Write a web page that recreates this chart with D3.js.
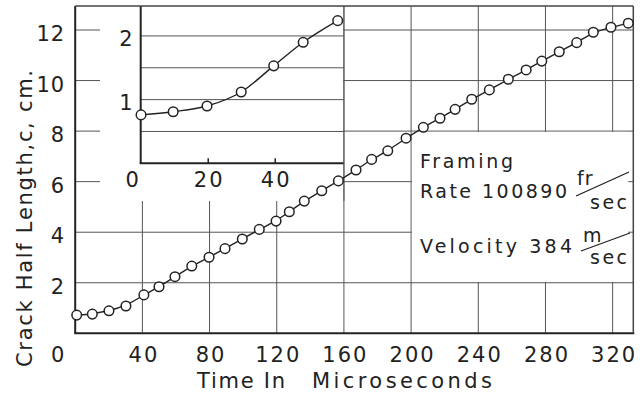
<!DOCTYPE html>
<html>
<head>
<meta charset="utf-8">
<script src="https://cdn.jsdelivr.net/npm/d3@7"></script>
<style>
  html, body { margin: 0; padding: 0; background: #fff; }
  svg { display: block; }
  text { font-family: "DejaVu Sans", sans-serif; fill: #222; }
</style>
</head>
<body>
<div id="chart"></div>
<script>
// ---- data ----
const mainTime = [0.9, 10.2, 20.1, 30.2, 40.9, 49.9, 59.4, 69.4, 79.7, 89.2, 99.5, 109.6, 119.6, 127.5, 136.4, 146.8, 156.7, 167.2, 176.5, 186.1, 197.0, 207.3, 217.2, 226.2, 236.1, 246.6, 257.9, 268.5, 277.8, 288.2, 298.6, 308.5, 319.0, 329.3];
const mainLength = [0.72, 0.76, 0.89, 1.08, 1.52, 1.84, 2.24, 2.66, 3.01, 3.35, 3.73, 4.11, 4.44, 4.81, 5.23, 5.64, 6.03, 6.46, 6.88, 7.22, 7.72, 8.15, 8.51, 8.86, 9.26, 9.63, 10.05, 10.42, 10.77, 11.14, 11.50, 11.91, 12.11, 12.27];
const insetTime = [0.1, 9.7, 19.8, 30.0, 39.7, 48.5, 58.8];
const insetLength = [0.76, 0.81, 0.90, 1.12, 1.53, 1.90, 2.24];

const mainXTicks = [0, 40, 80, 120, 160, 200, 240, 280, 320];
const mainYTicks = [2, 4, 6, 8, 10, 12];
const insetXTicks = [0, 20, 40];
const insetYTicks = [1, 2];
const insetGrid = [0.5, 1, 1.5, 2];

const xTitle1 = "Time In";
const xTitle2 = "Microseconds";
const yTitle = "Crack Half Length,c, cm.";
const noteLines = ["Framing", "Rate 100890", "Velocity 384"];
const unitTop = ["fr", "m"];
const unitBottom = "sec";

// ---- layout ----
const W = 644, H = 395;
const svg = d3.select("#chart").append("svg").attr("width", W).attr("height", H);
svg.append("rect").attr("width", W).attr("height", H).attr("fill", "#fff");

const x = d3.scaleLinear().domain([0, 332.3]).range([75.2, 633.3]);
const y = d3.scaleLinear().domain([0, 12.95]).range([333.3, 6]);
const xi = d3.scaleLinear().domain([0, 60.66]).range([140.7, x(160)]);
const yi = d3.scaleLinear().domain([0, 2.47]).range([163.3, 6]);

const gridColor = "#555";
const ink = "#222";
const fmt = d3.format("d");

// mask hiding the grid under the inset and the note box
const defs = svg.append("defs");
const mask = defs.append("mask").attr("id", "gridMask");
mask.append("rect").attr("x", 0).attr("y", 0).attr("width", W).attr("height", H).attr("fill", "#fff");
mask.append("rect").attr("x", 100).attr("y", 0)
  .attr("width", x(160) - 0.8 - 100).attr("height", 201).attr("fill", "#000");
mask.append("rect").attr("x", x(200) + 0.8).attr("y", y(8) + 0.8)
  .attr("width", x.range()[1] - 5 - (x(200) + 0.8)).attr("height", y(2) - 0.8 - (y(8) + 0.8)).attr("fill", "#000");

// main grid
const grid = svg.append("g").attr("mask", "url(#gridMask)")
  .attr("stroke", gridColor).attr("stroke-width", 1);
grid.selectAll("line.v").data(mainXTicks.filter(d => d > 0)).join("line")
  .attr("class", "v")
  .attr("x1", d => x(d)).attr("x2", d => x(d))
  .attr("y1", y.range()[1]).attr("y2", y.range()[0]);
grid.selectAll("line.h").data(mainYTicks).join("line")
  .attr("class", "h")
  .attr("x1", x.range()[0]).attr("x2", x.range()[1])
  .attr("y1", d => y(d)).attr("y2", d => y(d));

// ---- inset ----
const inset = svg.append("g");
inset.selectAll("line.ig").data(insetGrid).join("line")
  .attr("class", "ig")
  .attr("x1", xi.range()[0]).attr("x2", xi.range()[1])
  .attr("y1", d => yi(d)).attr("y2", d => yi(d))
  .attr("stroke", gridColor).attr("stroke-width", 1);
inset.append("line").attr("x1", xi.range()[0]).attr("x2", xi.range()[0])
  .attr("y1", yi.range()[1]).attr("y2", yi.range()[0]).attr("stroke", ink).attr("stroke-width", 2);
inset.append("line").attr("x1", xi.range()[0] - 1).attr("x2", xi.range()[1])
  .attr("y1", yi.range()[0]).attr("y2", yi.range()[0]).attr("stroke", ink).attr("stroke-width", 2);
inset.append("line").attr("x1", xi.range()[1]).attr("x2", xi.range()[1])
  .attr("y1", yi.range()[1]).attr("y2", 201).attr("stroke", gridColor).attr("stroke-width", 1);

const insetXAxis = d3.axisBottom(xi).tickValues(insetXTicks).tickFormat(fmt)
  .tickSize(-5).tickSizeOuter(0).tickPadding(0);
const gix = inset.append("g").attr("transform", `translate(0,${yi.range()[0]})`).call(insetXAxis);
gix.select(".domain").remove();
gix.selectAll(".tick line").attr("stroke", ink).attr("stroke-width", 1.5)
  .attr("opacity", d => d === 0 ? 0 : 1);
gix.selectAll(".tick text")
  .attr("font-size", 21).attr("font-family", "DejaVu Sans").attr("fill", ink)
  .attr("letter-spacing", 2)
  .attr("dy", null).attr("y", 24)
  .attr("x", d => d === 0 ? -8 : 1);

const insetYAxis = d3.axisLeft(yi).tickValues(insetYTicks).tickFormat(fmt).tickSize(0).tickPadding(0);
const giy = inset.append("g").attr("transform", `translate(${xi.range()[0]},0)`).call(insetYAxis);
giy.select(".domain").remove();
giy.selectAll(".tick text")
  .attr("font-size", 21).attr("font-family", "DejaVu Sans").attr("fill", ink)
  .attr("dy", null).attr("y", 10).attr("x", -8);

const insetPts = insetTime.map((t, i) => [t, insetLength[i]]);
inset.append("path").datum(insetPts)
  .attr("fill", "none").attr("stroke", ink).attr("stroke-width", 1.4)
  .attr("d", d3.line().x(d => xi(d[0])).y(d => yi(d[1])).curve(d3.curveMonotoneX));
inset.selectAll("circle").data(insetPts).join("circle")
  .attr("cx", d => xi(d[0])).attr("cy", d => yi(d[1])).attr("r", 4.8)
  .attr("fill", "#fff").attr("stroke", ink).attr("stroke-width", 1.5);

// ---- main frame & axes ----
const frame = svg.append("g").attr("stroke", ink).attr("fill", "none");
frame.append("line").attr("x1", x.range()[0]).attr("x2", x.range()[0])
  .attr("y1", y.range()[1]).attr("y2", y.range()[0]).attr("stroke-width", 2);
frame.append("line").attr("x1", x.range()[0] - 1).attr("x2", x.range()[1] + 1)
  .attr("y1", y.range()[0]).attr("y2", y.range()[0]).attr("stroke-width", 2);
frame.append("line").attr("x1", x.range()[0]).attr("x2", x.range()[1])
  .attr("y1", y.range()[1]).attr("y2", y.range()[1]).attr("stroke-width", 1.5).attr("stroke", "#444");
frame.append("line").attr("x1", x.range()[1]).attr("x2", x.range()[1])
  .attr("y1", y.range()[1]).attr("y2", y.range()[0]).attr("stroke-width", 1.5).attr("stroke", "#444");

const xAxis = d3.axisBottom(x).tickValues(mainXTicks).tickFormat(fmt).tickSize(0).tickPadding(0);
const gx = svg.append("g").attr("transform", `translate(0,${y.range()[0]})`).call(xAxis);
gx.select(".domain").remove();
gx.selectAll(".tick text")
  .attr("font-size", 21).attr("font-family", "DejaVu Sans").attr("fill", ink)
  .attr("letter-spacing", 2)
  .attr("dy", null).attr("y", 28.5)
  .attr("x", d => d === 0 ? -17 : 1);

const yAxis = d3.axisLeft(y).tickValues(mainYTicks).tickFormat(fmt).tickSize(0).tickPadding(0);
const gy = svg.append("g").attr("transform", `translate(${x.range()[0]},0)`).call(yAxis);
gy.select(".domain").remove();
gy.selectAll(".tick text")
  .attr("font-size", 21).attr("font-family", "DejaVu Sans").attr("fill", ink)
  .attr("letter-spacing", 1)
  .attr("dy", null).attr("y", 10.5).attr("x", -10);

// axis titles
svg.append("text").attr("x", 197).attr("y", 388)
  .attr("font-size", 21).attr("textLength", 88).attr("lengthAdjust", "spacing").text(xTitle1);
svg.append("text").attr("x", 312).attr("y", 388)
  .attr("font-size", 21).attr("textLength", 180).attr("lengthAdjust", "spacing").text(xTitle2);
svg.append("text")
  .attr("transform", "translate(32,367) rotate(-90)")
  .attr("font-size", 21).attr("textLength", 297).attr("lengthAdjust", "spacing").text(yTitle);

// ---- main series ----
const mainPts = mainTime.map((t, i) => [t, mainLength[i]]);
svg.append("path").datum(mainPts)
  .attr("fill", "none").attr("stroke", ink).attr("stroke-width", 1.4)
  .attr("d", d3.line().x(d => x(d[0])).y(d => y(d[1])).curve(d3.curveBasis));
svg.append("g").selectAll("circle").data(mainPts).join("circle")
  .attr("cx", d => x(d[0])).attr("cy", d => y(d[1])).attr("r", 4.8)
  .attr("fill", "#fff").attr("stroke", ink).attr("stroke-width", 1.5);

// ---- note box text ----
const note = svg.append("g");
note.append("text").attr("x", 420).attr("y", 168).attr("font-size", 19)
  .attr("textLength", 93).attr("lengthAdjust", "spacing").text(noteLines[0]);
note.append("text").attr("x", 420).attr("y", 197.5).attr("font-size", 19)
  .attr("textLength", 147).attr("lengthAdjust", "spacing").text(noteLines[1]);
note.append("text").attr("x", 420).attr("y", 252.5).attr("font-size", 19)
  .attr("textLength", 152).attr("lengthAdjust", "spacing").text(noteLines[2]);
note.append("text").attr("x", 577).attr("y", 185).attr("font-size", 19)
  .attr("letter-spacing", 1).text(unitTop[0]);
note.append("text").attr("x", 583).attr("y", 241.5).attr("font-size", 19).text(unitTop[1]);
note.append("text").attr("x", 590).attr("y", 208.5).attr("font-size", 19)
  .attr("textLength", 37).attr("lengthAdjust", "spacing").text(unitBottom);
note.append("text").attr("x", 590).attr("y", 264).attr("font-size", 19)
  .attr("textLength", 37).attr("lengthAdjust", "spacing").text(unitBottom);
note.append("line").attr("x1", 576).attr("y1", 196).attr("x2", 629).attr("y2", 172)
  .attr("stroke", ink).attr("stroke-width", 1.3);
note.append("line").attr("x1", 581).attr("y1", 251).attr("x2", 630).attr("y2", 233)
  .attr("stroke", ink).attr("stroke-width", 1.3);
</script>
</body>
</html>
